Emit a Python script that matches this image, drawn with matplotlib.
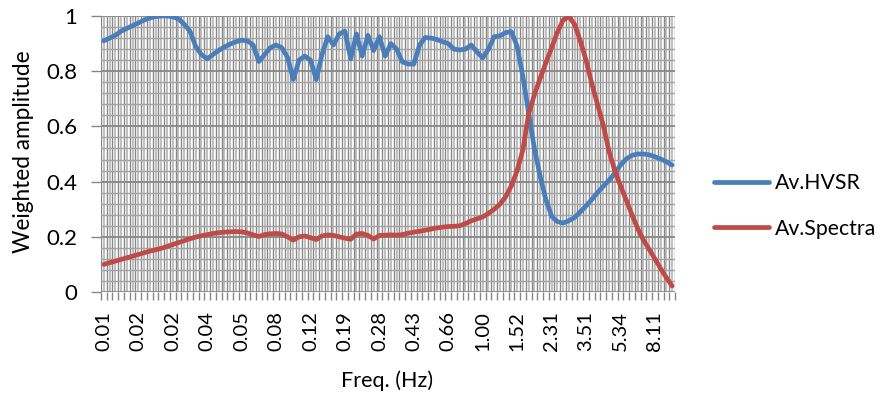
import numpy as np
import matplotlib
matplotlib.use("Agg")
import matplotlib.pyplot as plt

# ---- data ----
freq = np.logspace(-2, 1, 100)  # category frequencies (Hz)
freq_labels = ["%.2f" % f for f in freq]

hvsr = [0.91, 0.92, 0.93, 0.945, 0.955, 0.965, 0.975, 0.985, 0.993, 0.998,
        1.0, 1.0, 0.997, 0.99, 0.97, 0.945, 0.89, 0.86, 0.845, 0.86,
        0.875, 0.888, 0.898, 0.907, 0.912, 0.91, 0.895, 0.835, 0.86, 0.885,
        0.895, 0.885, 0.85, 0.77, 0.84, 0.855, 0.84, 0.77, 0.86, 0.925,
        0.895, 0.935, 0.945, 0.845, 0.935, 0.855, 0.93, 0.875, 0.925, 0.855,
        0.9, 0.88, 0.834, 0.826, 0.826, 0.895, 0.922, 0.92, 0.915, 0.907,
        0.9, 0.88, 0.877, 0.88, 0.895, 0.87, 0.848, 0.88, 0.925, 0.928,
        0.94, 0.943, 0.89, 0.78, 0.65, 0.52, 0.42, 0.335, 0.275, 0.255,
        0.25, 0.258, 0.27, 0.29, 0.312, 0.335, 0.36, 0.383, 0.405, 0.43,
        0.46, 0.482, 0.495, 0.5, 0.5, 0.497, 0.49, 0.482, 0.472, 0.46]

spectra = [0.10, 0.106, 0.112, 0.118, 0.124, 0.13, 0.136, 0.142, 0.148, 0.153,
           0.158, 0.165, 0.172, 0.179, 0.186, 0.193, 0.199, 0.204, 0.208, 0.212,
           0.215, 0.217, 0.218, 0.219, 0.218, 0.214, 0.207, 0.201, 0.208, 0.211,
           0.212, 0.21, 0.2, 0.188, 0.2, 0.203, 0.197, 0.19, 0.203, 0.207,
           0.205, 0.2, 0.195, 0.191, 0.21, 0.212, 0.205, 0.192, 0.205, 0.206,
           0.207, 0.206, 0.208, 0.213, 0.217, 0.22, 0.224, 0.228, 0.232, 0.235,
           0.237, 0.238, 0.24, 0.248, 0.258, 0.265, 0.272, 0.285, 0.3, 0.318,
           0.345, 0.385, 0.44, 0.515, 0.645, 0.715, 0.774, 0.83, 0.885, 0.94,
           0.985, 0.998, 0.97, 0.91, 0.84, 0.755, 0.68, 0.605, 0.51, 0.44,
           0.385, 0.333, 0.28, 0.23, 0.188, 0.155, 0.12, 0.085, 0.052, 0.022]

series_names = ["Av.HVSR", "Av.Spectra"]
colors = ["#4A7EBB", "#BE4B48"]

plt.rcParams['font.family'] = ['Lato', 'DejaVu Sans']

fig = plt.figure(figsize=(8.8, 3.93), dpi=100)
ax = fig.add_axes([101/880, (393-292)/393, (675-101)/880, (292-16)/393])

n = len(hvsr)
x = np.arange(n)

# light lines at category centres
ax.vlines(x, 0, 1, transform=ax.get_xaxis_transform(), color="#c0c0c0", lw=1.4, zorder=0)
# dark lines at category boundaries
bounds = np.arange(n + 1) - 0.5
ax.vlines(bounds, 0, 1, transform=ax.get_xaxis_transform(), color="#878787", lw=1.0, zorder=0.5)
# horizontal grid
for yv in np.arange(0, 1.0001, 0.04):
    major = abs(round(yv / 0.2) * 0.2 - yv) < 1e-6
    ax.axhline(yv, color="#878787" if major else "#a3a3a3", lw=1.3 if major else 1.0, zorder=0.6)

ax.plot(x, hvsr, color=colors[0], lw=3.4, label=series_names[0], solid_capstyle='round', zorder=3)
ax.plot(x, spectra, color=colors[1], lw=3.4, label=series_names[1], solid_capstyle='round', zorder=3)

ax.set_xlim(-0.5, n - 0.5)
ax.set_ylim(0, 1)

lab_idx = np.arange(0, n, 6)
ax.set_xticks(lab_idx, [freq_labels[i] for i in lab_idx], rotation=90, fontsize=14.5)
ax.tick_params(axis='x', which='major', length=0, pad=14)
ax.set_xticks(bounds, minor=True)
ax.tick_params(axis='x', which='minor', length=6, color="#878787", width=1.0)

ax.set_yticks([0, 0.2, 0.4, 0.6, 0.8, 1.0], ["0", "0.2", "0.4", "0.6", "0.8", "1"], fontsize=16)
ax.tick_params(axis='y', length=7, color="#878787", width=1.0, pad=10)

for s in ax.spines.values():
    s.set_visible(False)

ax.set_xlabel("Freq. (Hz)", fontsize=15.5)
ax.xaxis.set_label_coords((387-101)/574, (292-370)/276)
ax.set_ylabel("Weighted amplitude", fontsize=16.3)
ax.yaxis.set_label_coords((34-101)/574, (292-152)/276)

leg = ax.legend(loc='center left', bbox_to_anchor=(714/880, (393-206)/393), bbox_transform=fig.transFigure,
                frameon=False, fontsize=15.3, handlelength=2.6, handletextpad=0.25, labelspacing=1.2,
                borderaxespad=0, borderpad=0)

fig.savefig("out.png", dpi=100)
